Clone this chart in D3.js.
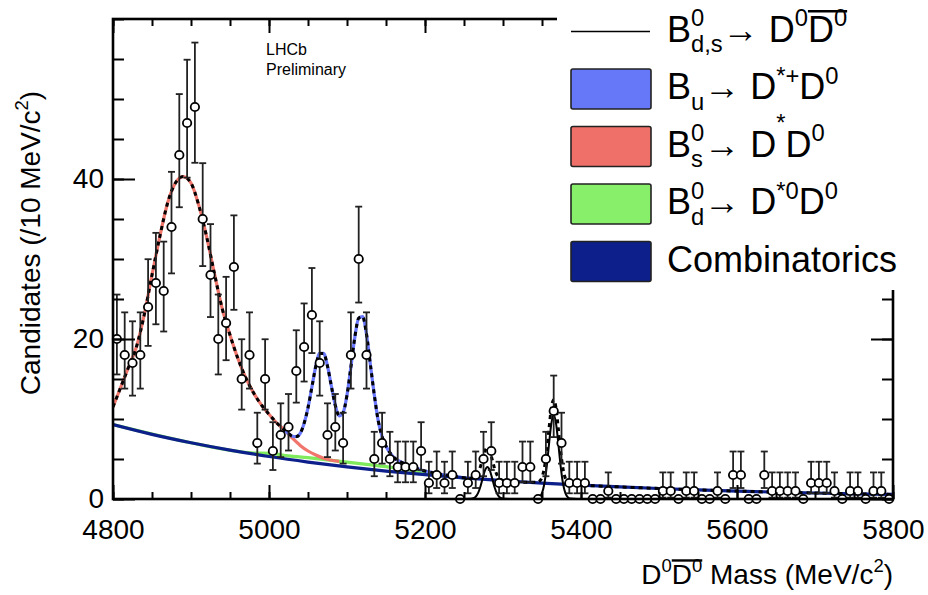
<!DOCTYPE html>
<html><head><meta charset="utf-8">
<script src="https://cdn.jsdelivr.net/npm/d3@7"></script>
<style>
body{margin:0;background:#fff}
svg{display:block}
text{font-family:"Liberation Sans",Arial,Helvetica,sans-serif;fill:#000}
</style>
</head><body>
<svg id="c" width="928" height="595"></svg>
<script>
// ---------------- data ----------------
// histogram: 10 MeV bins from 4800 to 5800, value = candidates per bin
const binCenters = d3.range(4805, 5800, 10);
const counts = [
  20,18,17,18,24,27,26,34,43,47,
  49,35,28,20,22,29,15,18, 7,15,
   6, 8, 9,16,19,23,17, 8, 9, 7,
  18,30,18, 5, 7, 5, 4, 4, 4, 6,
   2, 3, 2, 3, 0, 2, 3, 5, 6, 2,
   2, 2, 4, 4, 0, 5,11, 7, 2, 2,
   2, 0, 0, 1, 0, 0, 0, 0, 0, 0,
   1, 1, 0, 1, 1, 0, 0, 1, 0, 3,
   3, 0, 0, 3, 1, 1, 1, 1, 0, 2,
   2, 2, 1, 0, 1, 1, 0, 1, 1, 0
];
const xTickLabels = [4800, 5000, 5200, 5400, 5600, 5800];
const yTickLabels = [0, 20, 40];

// fit curves (cumulative, as drawn)
const combMass  = [4800,4850,4900,4950,5000,5050,5100,5150,5200,5250,5300,5350,5400,5450,5500,5550,5600,5650,5700,5750,5800];
const combValue = [9.30,8.08,7.03,6.11,5.31,4.62,4.02,3.49,3.04,2.64,2.29,1.99,1.73,1.51,1.31,1.14,0.99,0.86,0.75,0.65,0.57];

const greenMass  = [4800,4900,4960,4980,5000,5025,5050,5075,5100,5125,5150,5175,5200,5225,5250];
const greenValue = [9.30,7.03,5.95,5.75,5.71,5.40,5.17,4.90,4.62,4.33,4.04,3.70,3.34,2.93,2.64];

const redMass  = [4800,4810,4820,4830,4840,4850,4860,4870,4880,4890,4900,4910,4920,4930,4940,4950,4960,4970,4980,4990,5000,5010,5020,5030,5040,5050,5060,5070,5080,5090];
const redValue = [11.5,14.0,16.5,19.0,23.0,28.0,32.8,37.0,39.5,40.3,39.5,36.7,32.8,28.2,23.8,20.5,17.6,15.2,13.3,11.8,10.6,9.5,8.6,7.6,6.7,6.0,5.5,5.1,4.85,4.7];

const buMass  = [5020,5025,5030,5035,5040,5045,5050,5055,5060,5065,5070,5075,5080,5085,5090,5095,5100,5105,5110,5115,5120,5125,5130,5135,5140,5145,5150,5155,5160,5170,5180,5190,5200,5210,5220,5230,5240,5250];
const buValue = [8.6,8.2,7.85,7.8,8.2,9.45,11.4,14.0,16.6,18.2,18.2,16.6,14.1,11.7,10.4,10.8,13.0,16.5,20.2,22.6,22.8,20.6,16.8,13.0,9.8,7.8,6.6,5.8,5.2,4.6,4.1,3.8,3.5,3.3,3.1,2.95,2.8,2.65];

// B0(d,s) -> D0 D0bar signal (drawn from zero)
const sigMass  = [4800,5250,5259,5262,5265,5268,5271,5274,5277,5280,5283,5286,5289,5292,5295,5298,5301,5310,5335,5344,5347,5350,5353,5356,5359,5362,5365,5368,5371,5374,5377,5380,5383,5386,5395,5800];
const sigValue = [0,0,0.02,0.09,0.28,0.73,1.53,2.61,3.6,4.0,3.6,2.61,1.53,0.73,0.28,0.09,0.02,0,0,0.06,0.23,0.73,1.91,4.02,6.86,9.44,10.5,9.44,6.86,4.02,1.91,0.73,0.23,0.06,0,0];

const legendLabels = ["B0d,s → D0D0bar", "Bu → D*+D0", "B0s → D*D0", "B0d → D*0D0", "Combinatorics"];
const legendColors = [null, "#6677f7", "#ef7068", "#88ef6a", "#0c1f8a"];

// ---------------- drawing ----------------
const svg = d3.select("#c");
const L = 113, R = 893, T = 19, B = 499;
const x = d3.scaleLinear().domain([4800, 5800]).range([L, R]);
const y = d3.scaleLinear().domain([0, 60]).range([B, T]);

svg.append("defs").append("clipPath").attr("id","pc")
  .append("rect").attr("x",L).attr("y",T).attr("width",R-L).attr("height",B-T);

const curves = svg.append("g").attr("clip-path","url(#pc)");
const line = d3.line().x(d=>x(d[0])).y(d=>y(d[1])).curve(d3.curveMonotoneX);
const zip = (a,b)=>a.map((m,i)=>[m,b[i]]);

curves.append("path").attr("d", line(zip(greenMass, greenValue)))
  .attr("fill","none").attr("stroke","#7eea5c").attr("stroke-width",3.2);
curves.append("path").attr("d", line(zip(redMass, redValue)))
  .attr("fill","none").attr("stroke","#f0766c").attr("stroke-width",3.2);
curves.append("path").attr("d", line(zip(buMass, buValue)))
  .attr("fill","none").attr("stroke","#6a78ff").attr("stroke-width",3.2);
curves.append("path").attr("d", line(zip(combMass, combValue)))
  .attr("fill","none").attr("stroke","#0c1f8a").attr("stroke-width",3.2);

curves.append("path").attr("d", line(zip(sigMass, sigValue)))
  .attr("fill","none").attr("stroke","#000").attr("stroke-width",2);

// total fit: red up to 5020, Bu curve up to 5250, then combinatorics + signal
const combAt = d3.scaleLinear().domain(combMass).range(combValue);
const sigAt  = d3.scaleLinear().domain(sigMass).range(sigValue).clamp(true);
const tailMass = Array.from(new Set(combMass.filter(m=>m>5250).concat(sigMass.filter(m=>m>5250)))).sort((a,b)=>a-b);
const totalPts = zip(redMass, redValue).filter(d=>d[0]<5020)
  .concat(zip(buMass, buValue))
  .concat(tailMass.map(m=>[m, combAt(m)+sigAt(m)]));
curves.append("path").attr("d", line(totalPts))
  .attr("fill","none").attr("stroke","#000").attr("stroke-width",3)
  .attr("stroke-dasharray","4,4");

// data points with Poisson (68%) error bars
function upper(n){ return n + Math.sqrt(n+0.75) + 1; }
function lower(n){ return n<=0 ? 0 : n*Math.pow(1 - 1/(9*n) - 1/(3*Math.sqrt(n)), 3); }
const pts = svg.append("g");
const data = zip(binCenters, counts);
const eb = pts.selectAll("g.eb").data(data.filter(d=>d[1]>0)).join("g").attr("class","eb");
eb.append("line").attr("x1",d=>x(d[0])).attr("x2",d=>x(d[0]))
  .attr("y1",d=>y(upper(d[1]))).attr("y2",d=>y(lower(d[1])))
  .attr("stroke","#222").attr("stroke-width",1.8);
eb.append("line").attr("x1",d=>x(d[0])-3.5).attr("x2",d=>x(d[0])+3.5)
  .attr("y1",d=>y(upper(d[1]))).attr("y2",d=>y(upper(d[1])))
  .attr("stroke","#222").attr("stroke-width",1.8);
eb.append("line").attr("x1",d=>x(d[0])-3.5).attr("x2",d=>x(d[0])+3.5)
  .attr("y1",d=>y(lower(d[1]))).attr("y2",d=>y(lower(d[1])))
  .attr("stroke","#222").attr("stroke-width",1.8);
pts.selectAll("circle").data(data).join("circle")
  .attr("cx",d=>x(d[0])).attr("cy",d=>y(d[1])).attr("r",4.2)
  .attr("fill","#fff").attr("stroke","#000").attr("stroke-width",1.8);

// frame and axes (ROOT style, ticks inside)
const axes = svg.append("g");
function steps(step, dom){ return d3.range(dom[0], dom[1]+1e-9, step); }
const xMinor = steps(50, x.domain()), yMinor = steps(5, y.domain());
const xMajor = steps(200, x.domain()), yMajor = steps(20, y.domain());
axes.append("g").attr("transform",`translate(0,${B})`)
  .call(d3.axisBottom(x).tickValues(xMinor).tickSizeInner(-7).tickSizeOuter(0).tickFormat(""));
axes.append("g").attr("transform",`translate(0,${B})`)
  .call(d3.axisBottom(x).tickValues(xTickLabels).tickSizeInner(-14).tickSizeOuter(0).tickPadding(20).tickFormat(d3.format("d")));
axes.append("g").attr("transform",`translate(0,${T})`)
  .call(d3.axisTop(x).tickValues(xMinor).tickSizeInner(-7).tickSizeOuter(0).tickFormat(""));
axes.append("g").attr("transform",`translate(0,${T})`)
  .call(d3.axisTop(x).tickValues(xMajor).tickSizeInner(-14).tickSizeOuter(0).tickFormat(""));
axes.append("g").attr("transform",`translate(${L},0)`)
  .call(d3.axisLeft(y).tickValues(yMinor).tickSizeInner(-11).tickSizeOuter(0).tickFormat(""));
axes.append("g").attr("transform",`translate(${L},0)`)
  .call(d3.axisLeft(y).tickValues(yTickLabels).tickSizeInner(-22).tickSizeOuter(0).tickPadding(9).tickFormat(d3.format("d")));
axes.append("g").attr("transform",`translate(${R},0)`)
  .call(d3.axisRight(y).tickValues(yMinor).tickSizeInner(-11).tickSizeOuter(0).tickFormat(""));
axes.append("g").attr("transform",`translate(${R},0)`)
  .call(d3.axisRight(y).tickValues(yMajor).tickSizeInner(-22).tickSizeOuter(0).tickFormat(""));
axes.selectAll(".domain").remove();
axes.selectAll(".tick line").attr("stroke","#000").attr("stroke-width",2);
axes.selectAll(".tick text").attr("font-size",28).attr("font-family","Liberation Sans, Arial, sans-serif").attr("fill","#000");
svg.append("rect").attr("x",L).attr("y",T).attr("width",R-L).attr("height",B-T)
  .attr("fill","none").attr("stroke","#000").attr("stroke-width",2.6);

// rich text helper (super/subscripts, overline)
function rich(g, x0, base, parts, size){
  let cx = x0, lastX = x0, overs = [];
  parts.forEach(p=>{
    const fs = p.k==="n" ? size : size*0.66;
    const dy = p.k==="sup" ? -(p.raise||0.42)*size : p.k==="sub" ? 0.3*size : 0;
    const px = p.stack ? lastX : cx;
    const t = g.append("text").attr("x",px).attr("y",base+dy).attr("font-size",fs)
      .attr("xml:space","preserve").style("white-space","pre").text(p.t);
    const w = t.node().getComputedTextLength();
    if(p.over) overs.push([px, px+w]);
    if(!p.stack){ lastX = cx; cx = px + w; } else { cx = Math.max(cx, px + w); }
  });
  if(overs.length){
    const x1 = d3.min(overs,d=>d[0]), x2 = d3.max(overs,d=>d[1]);
    g.append("line").attr("x1",x1).attr("x2",x2).attr("y1",base-0.84*size).attr("y2",base-0.84*size)
      .attr("stroke","#000").attr("stroke-width",2.4);
  }
  return cx;
}

// legend (white panel covering the top-right corner of the frame)
const lg = svg.append("g");
lg.append("rect").attr("x",557).attr("y",0).attr("width",371).attr("height",290).attr("fill","#fff");
const legY = [31.5, 89, 146.5, 204, 261.5];
const legParts = [
  [{t:"B",k:"n"},{t:"0",k:"sup"},{t:"d,s",k:"sub",stack:true},{t:"→ D",k:"n"},{t:"0",k:"sup"},{t:"D",k:"n",over:true},{t:"0",k:"sup",over:true}],
  [{t:"B",k:"n"},{t:"u",k:"sub"},{t:"→ D",k:"n"},{t:"*+",k:"sup"},{t:"D",k:"n"},{t:"0",k:"sup"}],
  [{t:"B",k:"n"},{t:"0",k:"sup"},{t:"s",k:"sub",stack:true},{t:"→ D",k:"n"},{t:"*",k:"sup",raise:0.72},{t:"D",k:"n"},{t:"0",k:"sup"}],
  [{t:"B",k:"n"},{t:"0",k:"sup"},{t:"d",k:"sub",stack:true},{t:"→ D",k:"n"},{t:"*0",k:"sup"},{t:"D",k:"n"},{t:"0",k:"sup"}],
  [{t:"Combinatorics",k:"n"}]
];
legendLabels.forEach((lab,i)=>{
  const cy = legY[i];
  if(legendColors[i]===null){
    lg.append("line").attr("x1",571).attr("x2",650).attr("y1",cy).attr("y2",cy)
      .attr("stroke","#000").attr("stroke-width",1.6);
  } else {
    lg.append("rect").attr("x",571).attr("y",cy-20).attr("width",80).attr("height",40).attr("rx",2)
      .attr("fill",legendColors[i]).attr("stroke","#222").attr("stroke-width",1.6);
  }
  rich(lg, 667, cy+10, legParts[i], 36);
});

// LHCb label
svg.append("text").attr("x",266).attr("y",55).attr("font-size",16).attr("fill","#333348").text("LHCb");
svg.append("text").attr("x",266).attr("y",75).attr("font-size",16).attr("fill","#333348").text("Preliminary");

// axis titles
const xt = svg.append("g");
const xtParts = [{t:"D",k:"n"},{t:"0",k:"sup"},{t:"D",k:"n",over:true},{t:"0",k:"sup",over:true},{t:"\u00a0Mass (MeV/c",k:"n"},{t:"2",k:"sup"},{t:")",k:"n"}];
const wTitle = rich(xt.append("g").attr("opacity",0), 0, 0, xtParts, 28);
xt.selectAll("*").remove();
rich(xt, R - wTitle, 584, xtParts, 28);

const yt = svg.append("g");
const ytParts = [{t:"Candidates (/10 MeV/c",k:"n"},{t:"2",k:"sup"},{t:")",k:"n"}];
const wY = rich(yt.append("g").attr("opacity",0), 0, 0, ytParts, 28);
yt.selectAll("*").remove();
const ytg = yt.append("g").attr("transform","translate(40,243) rotate(-90)");
rich(ytg, -wY/2, 0, ytParts, 28);
</script>
</body></html>
